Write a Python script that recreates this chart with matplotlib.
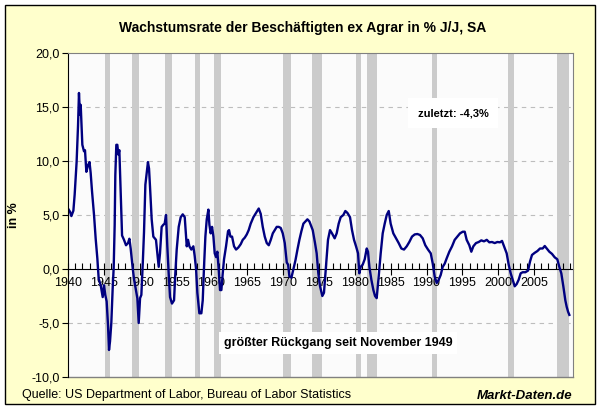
import matplotlib
matplotlib.use('Agg')
import matplotlib.pyplot as plt
from matplotlib.ticker import MultipleLocator, FuncFormatter
from matplotlib.patches import Rectangle

# ---- data ----
years = [
    1940.00, 1940.28, 1940.47, 1940.75, 1940.93, 1941.20, 1941.40, 1941.53, 1941.67, 1941.77,
    1942.00, 1942.23, 1942.37, 1942.56, 1942.79, 1943.00, 1943.16, 1943.35, 1943.63, 1943.86,
    1944.09, 1944.28, 1944.56, 1944.84, 1945.02, 1945.20, 1945.39, 1945.58, 1945.72, 1945.86,
    1946.04, 1946.23, 1946.37, 1946.51, 1946.60, 1946.74, 1946.88, 1947.02, 1947.16, 1947.35,
    1947.54, 1947.81, 1948.09, 1948.37, 1948.56, 1948.74, 1949.02, 1949.20, 1949.44, 1949.67,
    1949.86, 1950.05, 1950.23, 1950.42, 1950.60, 1950.79, 1950.98, 1951.15, 1951.30, 1951.44,
    1951.67, 1951.90, 1952.27, 1952.46, 1952.65, 1952.83, 1953.06, 1953.30, 1953.48, 1953.67,
    1953.85, 1954.04, 1954.23, 1954.50, 1954.79, 1954.97, 1955.16, 1955.44, 1955.72, 1956.00,
    1956.28, 1956.56, 1956.74, 1956.93, 1957.20, 1957.48, 1957.67, 1957.86, 1958.04, 1958.32,
    1958.60, 1958.79, 1958.97, 1959.16, 1959.35, 1959.58, 1959.72, 1959.90, 1960.09, 1960.28,
    1960.46, 1960.65, 1960.83, 1961.02, 1961.20, 1961.39, 1961.58, 1961.76, 1962.04, 1962.32,
    1962.46, 1962.65, 1962.88, 1963.16, 1963.44, 1963.77, 1964.09, 1964.37, 1964.65, 1964.93,
    1965.20, 1965.48, 1965.86, 1966.14, 1966.42, 1966.60, 1966.88, 1967.16, 1967.44, 1967.72,
    1968.00, 1968.28, 1968.56, 1968.83, 1969.11, 1969.39, 1969.67, 1969.95, 1970.23, 1970.51,
    1970.70, 1970.88, 1971.16, 1971.44, 1971.72, 1972.00, 1972.27, 1972.55, 1972.83, 1973.11,
    1973.39, 1973.67, 1974.13, 1974.45, 1974.68, 1974.91, 1975.15, 1975.47, 1975.70, 1975.98,
    1976.26, 1976.54, 1976.82, 1977.19, 1977.47, 1977.75, 1978.03, 1978.40, 1978.68, 1978.96,
    1979.33, 1979.61, 1979.89, 1980.17, 1980.45, 1980.63, 1980.82, 1981.10, 1981.38, 1981.66,
    1981.84, 1982.03, 1982.31, 1982.59, 1982.82, 1983.05, 1983.33, 1983.61, 1983.89, 1984.17,
    1984.45, 1984.73, 1985.00, 1985.37, 1985.75, 1986.12, 1986.49, 1986.86, 1987.24, 1987.60,
    1987.98, 1988.35, 1988.72, 1989.09, 1989.47, 1989.83, 1990.21, 1990.59, 1990.87, 1991.14,
    1991.42, 1991.70, 1991.98, 1992.26, 1992.54, 1992.82, 1993.18, 1993.56, 1993.93, 1994.30,
    1994.67, 1995.05, 1995.33, 1995.60, 1995.97, 1996.25, 1996.53, 1996.90, 1997.28, 1997.64,
    1998.02, 1998.40, 1998.76, 1999.13, 1999.51, 1999.88, 2000.25, 2000.53, 2000.81, 2001.18,
    2001.46, 2001.74, 2002.02, 2002.30, 2002.57, 2002.85, 2003.13, 2003.41, 2003.78, 2004.16,
    2004.44, 2004.71, 2005.09, 2005.46, 2005.83, 2006.20, 2006.49, 2006.77, 2007.13, 2007.50,
    2007.88, 2008.24, 2008.52, 2008.80, 2009.08, 2009.36, 2009.55, 2009.74, 2009.92,
]
growth = [
    5.6, 5.3, 4.9, 5.4, 6.9, 9.9, 13.3, 16.3, 14.3, 15.2,
    11.5, 10.9, 11.0, 9.0, 9.6, 9.9, 8.9, 7.2, 5.0, 2.8,
    1.0, -0.9, -1.5, -2.6, -1.5, -2.4, -3.0, -5.2, -7.5, -6.7,
    -5.0, -1.8, 0.1, 4.1, 8.7, 11.5, 11.5, 10.6, 11.0, 6.9,
    3.1, 2.7, 2.2, 2.4, 2.8, 1.9, 0.1, -0.9, -1.8, -2.7,
    -5.0, -2.7, -2.4, 0.4, 3.4, 7.8, 8.9, 9.9, 9.3, 7.6,
    4.6, 3.0, 2.7, 1.45, 0.2, 1.45, 3.9, 4.1, 4.2, 5.0,
    2.1, -0.4, -2.6, -3.2, -2.9, -0.4, 1.8, 3.9, 4.8, 5.06,
    4.8, 2.1, 2.7, 2.1, 1.8, 2.1, 1.2, 0.0, -2.2, -4.1,
    -4.1, -2.9, 0.2, 3.0, 4.6, 5.5, 4.1, 3.3, 3.9, 3.0,
    1.45, 1.1, 1.6, -0.06, -1.95, -1.95, -0.4, 0.9, 2.1, 3.5,
    3.6, 3.0, 3.0, 2.1, 1.8, 2.0, 2.3, 2.7, 2.9, 3.2,
    3.6, 4.2, 4.8, 5.1, 5.4, 5.6, 5.1, 3.9, 3.0, 2.4,
    2.2, 2.7, 3.3, 3.6, 3.9, 3.9, 3.8, 3.3, 2.4, 0.6,
    0.4, -0.7, -0.8, 0.0, 0.8, 1.8, 2.7, 3.5, 4.2, 4.4,
    4.6, 4.4, 3.6, 2.4, 1.45, -0.4, -1.6, -2.5, -2.2, 0.2,
    2.7, 3.6, 3.3, 2.84, 3.3, 4.2, 4.8, 5.0, 5.37, 5.2,
    4.8, 3.6, 2.7, 2.1, 1.45, -0.4, 0.2, 0.4, 0.9, 1.9,
    1.6, 0.2, -1.0, -1.95, -2.5, -2.7, -0.7, 1.45, 3.3, 4.2,
    5.0, 5.37, 4.2, 3.3, 2.84, 2.4, 1.9, 1.8, 2.1, 2.5,
    3.0, 3.2, 3.24, 3.15, 2.84, 2.2, 1.8, 1.45, 0.5, -0.7,
    -1.3, -1.0, -0.55, 0.2, 0.5, 1.0, 1.6, 2.1, 2.7, 3.0,
    3.3, 3.45, 3.45, 2.7, 2.2, 1.6, 2.1, 2.4, 2.5, 2.65,
    2.56, 2.7, 2.47, 2.5, 2.4, 2.5, 2.47, 2.6, 2.1, 1.45,
    0.4, -0.4, -1.0, -1.6, -1.4, -1.0, -0.4, -0.3, -0.3, -0.15,
    0.7, 1.3, 1.5, 1.66, 1.9, 1.9, 2.13, 1.9, 1.6, 1.4,
    1.08, 0.9, 0.2, -0.4, -1.6, -2.9, -3.5, -3.95, -4.25,
]
recession_start = [1945.2, 1948.97, 1953.5, 1957.7, 1960.4, 1970.0, 1974.07,
                   1980.17, 1981.7, 1990.8, 2001.4, 2008.15]
recession_end = [1945.9, 1949.9, 1954.5, 1958.4, 1961.3, 1971.06, 1975.4,
                 1980.87, 1983.05, 1991.4, 2002.15, 2009.9]
x_ticks = [1940, 1945, 1950, 1955, 1960, 1965, 1970, 1975, 1980, 1985, 1990, 1995, 2000, 2005]
y_ticks = [-10, -5, 0, 5, 10, 15, 20]
grid_levels = [-5, 5, 10, 15]

title = "Wachstumsrate der Beschäftigten ex Agrar in % J/J, SA"
note_last = "zuletzt: -4,3%"
note_drop = "größter Rückgang seit November 1949"
source = "Quelle: US Department of Labor, Bureau of Labor Statistics"
brand = "Markt-Daten.de"

plt.rcParams['font.family'] = ['Liberation Sans', 'DejaVu Sans']

W, H = 600, 409
fig = plt.figure(figsize=(W / 100, H / 100), dpi=100)
fig.patch.set_facecolor('white')
frame = Rectangle((4.5 / W, 5 / H), 590 / W, 399 / H, transform=fig.transFigure,
                  facecolor='#FFFFCC', edgecolor='black', lw=1.0, zorder=-10)
fig.patches.append(frame)

ax = fig.add_axes([68 / W, 32 / H, 505 / W, 324 / H])
ax.set_zorder(1)
ax.set_facecolor('#FBFBFB')
ax.set_xlim(1940, 2010.43)
ax.set_ylim(-10, 20)

for s, e in zip(recession_start, recession_end):
    ax.axvspan(s, e, color='#CBCBCB', lw=0, zorder=0.4)
for g in grid_levels:
    ax.axhline(g, color='#BDBDBD', lw=0.8, ls=(0, (4, 4)), zorder=0.3)

ax.plot(years, growth, color='#000080', lw=1.7, zorder=2, solid_joinstyle='round')

ax.set_axisbelow(True)
ax.spines['bottom'].set_position(('data', 0))
ax.spines['bottom'].set_zorder(1.5)
ax.spines['bottom'].set_color('black')
ax.spines['left'].set_color('black')
ax.spines['top'].set_color('#808080')
ax.spines['right'].set_color('#808080')
ax.axhline(-10, color='#808080', lw=1.0, zorder=2.5, clip_on=False)

ax.set_xticks(x_ticks)
ax.xaxis.set_minor_locator(MultipleLocator(1))
ax.tick_params(axis='x', which='major', direction='inout', length=8, width=0.8,
               labelsize=9, pad=2, colors='black')
ax.tick_params(axis='x', which='minor', direction='in', length=4, width=0.8)
ax.set_yticks(y_ticks)
ax.yaxis.set_major_formatter(FuncFormatter(lambda v, p: f"{v:.1f}".replace('.', ',')))
ax.tick_params(axis='y', direction='out', length=4, width=0.8, labelsize=9, pad=2)

ax.set_ylabel("in %", fontsize=9, fontweight='bold', labelpad=8)

ax.text((453 - 68) / 505, (377 - 113) / 324, note_last, transform=ax.transAxes,
        ha='center', va='center', fontsize=8, fontweight='bold', zorder=3,
        bbox=dict(boxstyle='square,pad=0.9', fc='white', ec='none'))
ax.text((338 - 68) / 505, (377 - 343) / 324, note_drop, transform=ax.transAxes,
        ha='center', va='center', fontsize=9, fontweight='bold', zorder=3,
        bbox=dict(boxstyle='square,pad=0.4', fc='white', ec='none'))

fig.text(303 / W, 1 - 28 / H, title, ha='center', va='center', fontsize=10, fontweight='bold')
fig.text(22 / W, 1 - 395 / H, source, ha='left', va='center', fontsize=9)
fig.text(572 / W, 1 - 396 / H, brand, ha='right', va='center', fontsize=9.5,
         fontweight='bold', fontstyle='italic')

fig.savefig('out.png', dpi=100, facecolor=fig.get_facecolor())
